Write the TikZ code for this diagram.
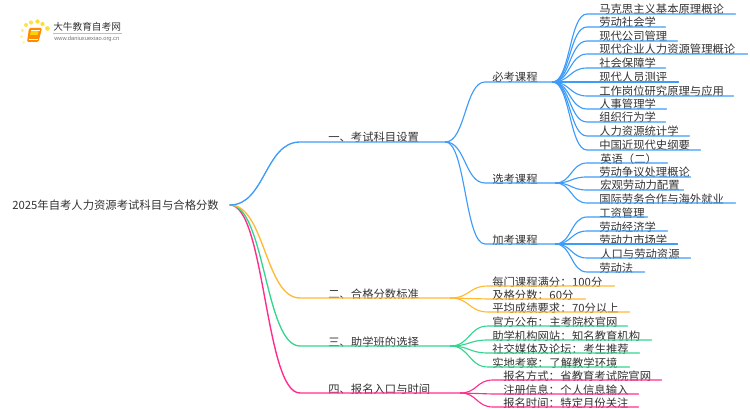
\documentclass[tikz,border=0pt]{standalone}
\usepackage{fontspec}
\setmainfont{Noto Sans CJK SC}
\newfontfamily\urlfont{Liberation Sans}
\definecolor{cblue}{HTML}{3D9BFA}
\definecolor{corange}{HTML}{FFB933}
\definecolor{cgreen}{HTML}{33D68F}
\definecolor{cpink}{HTML}{FF2E8C}
\definecolor{ctext}{HTML}{333333}
\tikzset{
  lbl/.style={inner sep=0pt,anchor=south west,text=ctext,font=\fontsize{8.5}{10}\selectfont,text height=9.5pt,text depth=0pt},
  conn/.style={line width=0.85pt,line cap=round},
  logodot/.style={circle,inner sep=0pt,fill=#1},
}
% name, parent point, parent x, x start, x end, text pad, colour, text, y
\newcommand\twig[9]{%
  \pgfmathsetlengthmacro\twigw{(#5-#4)*0.75pt}%
  \pgfmathsetlengthmacro\twigp{#6*0.75pt}%
  \pgfmathsetmacro\twigc{(#4-#3)*0.5}%
  \node[lbl] (#1) at (#4,#9) {\spaceskip=0.4pt\makebox[\twigw][l]{\hspace*{\twigp}\raisebox{-0.2pt}[0pt][0pt]{#8}}};
  \draw[conn,#7] (#2) .. controls +(\twigc,0) and +(-\twigc,0) .. (#1.south west) -- (#1.south east);
}
\begin{document}
\begin{tikzpicture}[x=0.75pt,y=-0.75pt]
\useasboundingbox (0,0) rectangle (750,410);
% logo
\node[logodot={yellow!75!orange!70},minimum size=3pt] (d1) at (26,25) {};
\node[logodot={yellow!75!orange!70},minimum size=3.2pt] (d2) at (31,22.5) {};
\node[logodot={yellow!75!orange!80},minimum size=3.2pt] (d3) at (37.5,21.5) {};
\node[logodot={yellow!75!orange!80},minimum size=3.2pt] (d4) at (42.5,24) {};
\node[logodot={yellow!75!orange!80},minimum size=3.5pt] (d5) at (47.5,28.5) {};
\node[logodot={yellow!75!orange!50},minimum size=2.5pt] (d6) at (22.5,30.5) {};
\node[logodot={yellow!75!orange!40},minimum size=2.2pt] (d7) at (21.5,36.5) {};
\node[logodot={yellow!75!orange!30},minimum size=2pt] (d8) at (23.5,42.5) {};
\fill[orange!90!yellow,rounded corners=1pt] (29,28) -- (42,28) -- (38.5,42) -- (27,42) -- cycle;
\draw[white,line width=0.4pt] (30.5,30) -- (40,30) (28.6,39.5) -- (37.5,39.5);
\fill[yellow!70!orange] (31,31) -- (38.5,31) -- (37.5,35) -- (30,35) -- cycle;
\node[inner sep=0pt,anchor=west,text=ctext,font=\fontsize{7.25}{9}\selectfont] (logotext) at (53,27) {大牛教育自考网};
\node[inner sep=0pt,anchor=west,text=black!55,font=\urlfont\fontsize{4.3}{5}\selectfont] (logourl) at (54,39) {www.daniuxuexiao.org.cn};
\coordinate (logoruleA) at (53,33);
\coordinate (logoruleB) at (122,33);
\draw[black!25,line width=0.4pt] (logoruleA) -- (logoruleB);
% root
\node[inner sep=0pt,anchor=west,text=ctext,font=\fontsize{8.5}{10}\selectfont] (root) at (12,205) {2025年自考人力资源考试科目与合格分数};
\coordinate (rootout) at (230,205);
% main branches
\twig{b4}{rootout}{230}{300}{460}{28}{cpink,line width=1.05pt}{四、报名入口与时间}{393}
\twig{b3}{rootout}{230}{300}{450}{28}{cgreen,line width=1pt}{三、助学班的选择}{346}
\twig{b2}{rootout}{230}{300}{450}{28}{corange,line width=1pt}{二、合格分数标准}{298}
\twig{b1}{rootout}{230}{300}{445}{28}{cblue,line width=1pt}{一、考试科目设置}{142}
% sub branches
\twig{s1}{b1.south east}{445}{485}{552}{7}{cblue}{必考课程}{82}
\twig{s2}{b1.south east}{445}{485}{555}{7}{cblue}{选考课程}{183}
\twig{s3}{b1.south east}{445}{485}{555}{7}{cblue}{加考课程}{244}
% required
\twig{a1}{s1.south east}{552}{587}{735}{12}{cblue}{马克思主义基本原理概论}{14}
\twig{a2}{s1.south east}{552}{587}{665}{12}{cblue}{劳动社会学}{27}
\twig{a3}{s1.south east}{552}{587}{677}{12}{cblue}{现代公司管理}{41}
\twig{a4}{s1.south east}{552}{587}{747}{12}{cblue}{现代企业人力资源管理概论}{54}
\twig{a5}{s1.south east}{552}{587}{665}{12}{cblue}{社会保障学}{68}
\twig{a6}{s1.south east}{552}{587}{678}{12}{cblue}{现代人员测评}{82}
\twig{a7}{s1.south east}{552}{587}{733}{12}{cblue}{工作岗位研究原理与应用}{96}
\twig{a8}{s1.south east}{552}{587}{666}{12}{cblue}{人事管理学}{109}
\twig{a9}{s1.south east}{552}{587}{665}{12}{cblue}{组织行为学}{122}
\twig{a10}{s1.south east}{552}{587}{689}{12}{cblue}{人力资源统计学}{136}
\twig{a11}{s1.south east}{552}{587}{700}{12}{cblue}{中国近现代史纲要}{150}
% elective
\twig{c1}{s2.south east}{555}{587}{667}{13}{cblue}{英语（二）}{163}
\twig{c2}{s2.south east}{555}{587}{690}{12}{cblue}{劳动争议处理概论}{177}
\twig{c3}{s2.south east}{555}{587}{683}{13}{cblue}{宏观劳动力配置}{190}
\twig{c4}{s2.south east}{555}{587}{735}{12}{cblue}{国际劳务合作与海外就业}{203}
% extra
\twig{e1}{s3.south east}{555}{587}{647}{12}{cblue}{工资管理}{217}
\twig{e2}{s3.south east}{555}{587}{667}{12}{cblue}{劳动经济学}{231}
\twig{e3}{s3.south east}{555}{587}{677}{12}{cblue}{劳动力市场学}{244}
\twig{e4}{s3.south east}{555}{587}{690}{13}{cblue}{人口与劳动资源}{258}
\twig{e5}{s3.south east}{555}{587}{644}{12}{cblue}{劳动法}{272}
% pass marks
\twig{f1}{b2.south east}{450}{488}{614}{4}{corange}{每门课程满分： 100分}{286}
\twig{f2}{b2.south east}{450}{488}{585}{4}{corange}{及格分数： 60分}{299}
\twig{f3}{b2.south east}{450}{488}{629}{4}{corange}{平均成绩要求： 70分以上}{312}
% choosing
\twig{g1}{b3.south east}{450}{488}{627}{4}{cgreen}{官方公布： 主考院校官网}{326}
\twig{g2}{b3.south east}{450}{488}{651}{4}{cgreen}{助学机构网站： 知名教育机构}{340}
\twig{g3}{b3.south east}{450}{488}{639}{4}{cgreen}{社交媒体及论坛： 考生推荐}{353}
\twig{g4}{b3.south east}{450}{488}{629}{4}{cgreen}{实地考察： 了解教学环境}{367}
% registration
\twig{h1}{b4.south east}{460}{493}{661}{10}{cpink}{报名方式： 省教育考试院官网}{380}
\twig{h2}{b4.south east}{460}{493}{638}{10}{cpink}{注册信息： 个人信息输入}{394}
\twig{h3}{b4.south east}{460}{493}{638}{10}{cpink}{报名时间： 特定月份关注}{407}
\end{tikzpicture}
\end{document}
